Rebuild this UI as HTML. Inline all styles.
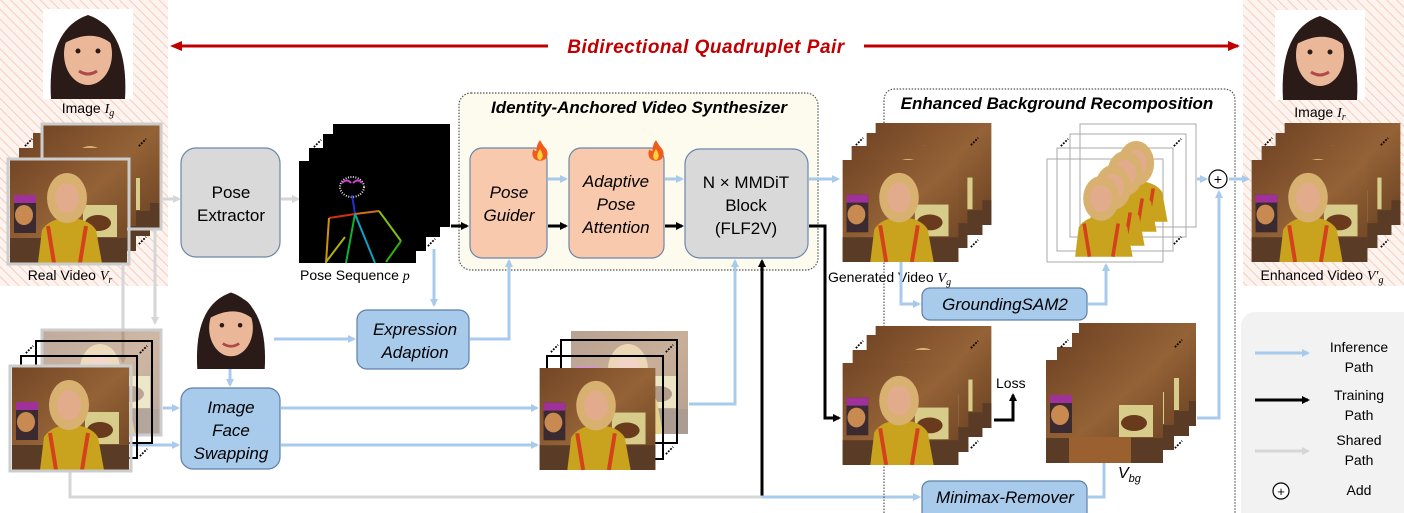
<!DOCTYPE html>
<html><head><meta charset="utf-8"><style>
html,body{margin:0;padding:0;background:#fff}
svg{display:block}
text{font-family:"Liberation Sans",sans-serif}
</style></head><body>
<svg width="1404" height="513" viewBox="0 0 1404 513" xmlns="http://www.w3.org/2000/svg">
<defs>
<pattern id="hatch" width="7" height="7" patternUnits="userSpaceOnUse" patternTransform="rotate(-45)">
<rect width="7" height="7" fill="#fdf3ef"/><line x1="0" y1="0" x2="0" y2="7" stroke="#f6cdbf" stroke-width="2"/>
</pattern>
<linearGradient id="wood" x1="0" y1="0" x2="1" y2="1"><stop offset="0" stop-color="#734626"/><stop offset="0.5" stop-color="#946236"/><stop offset="1" stop-color="#6a4222"/></linearGradient>
<symbol id="bg" viewBox="0 0 117 103">
<rect width="117" height="103" fill="url(#wood)"/>
<rect x="0" y="78" width="117" height="25" fill="#5a3b26"/>
<rect x="4" y="35" width="22" height="38" fill="#3b2b30"/><rect x="4" y="35" width="22" height="8" fill="#a0309a"/>
<ellipse cx="14" cy="55" rx="9" ry="10" fill="#c88a50"/>
<rect x="73" y="45" width="34" height="32" fill="#d8cc8a"/><ellipse cx="88" cy="63" rx="13" ry="8" fill="#6a3a1c"/>
</symbol>
<symbol id="fr" viewBox="0 0 117 103">
<use href="#bg" width="117" height="103"/>
<path d="M28 103 L32 70 Q40 58 58 58 Q78 58 86 70 L92 103 Z" fill="#c9a21e"/>
<path d="M38 66 L44 103 M76 66 L70 103" stroke="#d4421c" stroke-width="4"/>
<ellipse cx="57" cy="38" rx="20" ry="25" fill="#d8b070"/>
<ellipse cx="57" cy="38" rx="12" ry="15" fill="#e2ab8c"/>
</symbol>
<symbol id="pers" viewBox="0 0 117 103">
<path d="M28 103 L32 70 Q40 58 58 58 Q78 58 86 70 L92 103 Z" fill="#c9a21e"/>
<path d="M38 66 L44 103 M76 66 L70 103" stroke="#d4421c" stroke-width="4"/>
<ellipse cx="57" cy="38" rx="20" ry="25" fill="#d8b070"/>
<ellipse cx="57" cy="38" rx="12" ry="15" fill="#e2ab8c"/>
</symbol>
<symbol id="face" viewBox="0 0 90 90">
<rect width="90" height="90" fill="#fff"/>
<path d="M8 90 Q4 20 45 6 Q86 20 82 90 Z" fill="#2a1a18"/>
<ellipse cx="45" cy="45" rx="24" ry="31" fill="#eab898"/>
<path d="M20 35 Q30 8 60 14 Q72 22 70 36 Q50 18 20 35Z" fill="#2a1a18"/>
<path d="M36 62 Q45 68 54 62" stroke="#b04848" stroke-width="3" fill="none"/>
<circle cx="35" cy="42" r="2.5" fill="#2a1a18"/><circle cx="55" cy="42" r="2.5" fill="#2a1a18"/>
</symbol>
<symbol id="fire" viewBox="0 0 20 24">
<path d="M10 1 Q14 8 17 11 Q20 16 17 21 Q14 24 10 24 Q6 24 3 21 Q0 16 3 11 Q5 14 6 13 Q6 6 10 1Z" fill="#f05a1c"/>
<path d="M10 11 Q13 15 13 19 Q12 23 10 23 Q7 23 7 19 Q7 15 10 11Z" fill="#ffd23a"/>
</symbol>
<symbol id="dots" viewBox="0 0 10 10"><path d="M1 9 L9 1" stroke="#000" stroke-width="2" stroke-dasharray="2 1.5"/></symbol>
<marker id="ab" markerWidth="8" markerHeight="8" refX="6" refY="4" orient="auto" markerUnits="userSpaceOnUse"><path d="M0 0 L8 4 L0 8 Z" fill="#a8cbec"/></marker>
<marker id="ak" markerWidth="8" markerHeight="8" refX="6" refY="4" orient="auto" markerUnits="userSpaceOnUse"><path d="M0 0 L8 4 L0 8 Z" fill="#000"/></marker>
<marker id="ag" markerWidth="8" markerHeight="8" refX="6" refY="4" orient="auto" markerUnits="userSpaceOnUse"><path d="M0 0 L8 4 L0 8 Z" fill="#d6d6d6"/></marker>
<marker id="ar" markerWidth="12" markerHeight="10" refX="10" refY="5" orient="auto" markerUnits="userSpaceOnUse"><path d="M0 0 L12 5 L0 10 Z" fill="#c00000"/></marker>
</defs>

<rect x="0" y="0" width="168" height="286" fill="url(#hatch)"/>
<rect x="1243" y="0" width="161" height="286" fill="url(#hatch)"/>

<line x1="180" y1="46" x2="1238" y2="46" stroke="#c00000" stroke-width="3" marker-end="url(#ar)"/>
<path d="M170 46 L182 41 L182 51 Z" fill="#c00000"/>
<rect x="548" y="33" width="316" height="26" fill="#fff"/>
<text x="706" y="53" font-size="19" font-weight="bold" font-style="italic" fill="#c00000" text-anchor="middle" letter-spacing="0.5">Bidirectional Quadruplet Pair</text>

<use href="#face" x="43" y="9" width="90" height="90"/>
<text x="88" y="113" font-size="14" text-anchor="middle">Image <tspan font-family="Liberation Serif" font-style="italic">I<tspan font-size="10" dy="3">g</tspan></tspan></text>

<use href="#fr" x="43" y="125" width="117" height="103"/>
<use href="#fr" x="33" y="133" width="117" height="103"/>
<use href="#fr" x="19" y="148" width="117" height="103"/>
<rect x="42" y="124" width="119" height="105" fill="none" stroke="#ccc" stroke-width="3"/>
<use href="#fr" x="9" y="160" width="119" height="103"/>
<rect x="8" y="159" width="121" height="105" fill="none" stroke="#ccc" stroke-width="3"/>
<use href="#dots" x="24" y="138" width="9" height="9"/><use href="#dots" x="138" y="138" width="9" height="9"/><use href="#dots" x="138" y="236" width="9" height="9"/>
<text x="70" y="280" font-size="14" text-anchor="middle">Real Video <tspan font-family="Liberation Serif" font-style="italic">V<tspan font-size="10" dy="3">r</tspan></tspan></text>

<line x1="161" y1="199" x2="179" y2="199" stroke="#d6d6d6" stroke-width="3" marker-end="url(#ag)"/>
<line x1="155" y1="230" x2="155" y2="323" stroke="#d6d6d6" stroke-width="3" marker-end="url(#ag)"/>
<line x1="123" y1="264" x2="123" y2="362" stroke="#d6d6d6" stroke-width="3" marker-end="url(#ag)"/>

<rect x="181" y="148" width="99" height="109" rx="15" fill="#d9d9d9" stroke="#6c87aa" stroke-width="1.2"/>
<text x="231" y="198" font-size="17" text-anchor="middle">Pose</text>
<text x="231" y="221" font-size="17" text-anchor="middle">Extractor</text>
<line x1="281" y1="199" x2="298" y2="199" stroke="#d6d6d6" stroke-width="3" marker-end="url(#ag)"/>

<rect x="333" y="124" width="117" height="103" fill="#000"/>
<rect x="323" y="134" width="117" height="103" fill="#000"/>
<rect x="309" y="148" width="117" height="103" fill="#000"/>
<rect x="299" y="161" width="117" height="102" fill="#000"/>
<use href="#dots" x="313" y="139" width="9" height="9"/><use href="#dots" x="427" y="238" width="9" height="9"/>
<g stroke-width="2" fill="none">
<ellipse cx="352" cy="187" rx="12" ry="10" stroke="#ddd" stroke-dasharray="1 1.5"/>
<path d="M342 183 Q347 178 351 183 M353 183 Q358 178 362 183" stroke="#d040d0"/>
<line x1="352" y1="195" x2="355" y2="214" stroke="#2030d0"/>
<line x1="329" y1="218" x2="355" y2="214" stroke="#d03010"/>
<line x1="355" y1="214" x2="379" y2="211" stroke="#d07010"/>
<line x1="329" y1="218" x2="326" y2="263" stroke="#d09010"/>
<line x1="326" y1="262" x2="345" y2="237" stroke="#b0b010"/>
<line x1="379" y1="211" x2="401" y2="241" stroke="#80c010"/>
<line x1="401" y1="241" x2="386" y2="262" stroke="#30b010"/>
<line x1="355" y1="214" x2="346" y2="263" stroke="#10b030"/>
<line x1="355" y1="214" x2="375" y2="263" stroke="#10a0c0"/>
</g>
<text x="300" y="280" font-size="14">Pose Sequence <tspan font-family="Liberation Serif" font-style="italic">p</tspan></text>

<rect x="459" y="93" width="359" height="177" rx="12" fill="#fdfaee" stroke="#555" stroke-width="1.2" stroke-dasharray="1.5 1.5"/>
<text x="639" y="113" font-size="17" font-weight="bold" font-style="italic" text-anchor="middle">Identity-Anchored Video Synthesizer</text>
<rect x="470" y="148" width="77" height="110" rx="12" fill="#f8c9ac" stroke="#6c87aa" stroke-width="1.2"/>
<text x="509" y="198" font-size="17" font-style="italic" text-anchor="middle">Pose</text>
<text x="509" y="221" font-size="17" font-style="italic" text-anchor="middle">Guider</text>
<rect x="569" y="148" width="95" height="110" rx="12" fill="#f8c9ac" stroke="#6c87aa" stroke-width="1.2"/>
<text x="616" y="187" font-size="17" font-style="italic" text-anchor="middle">Adaptive</text>
<text x="616" y="210" font-size="17" font-style="italic" text-anchor="middle">Pose</text>
<text x="616" y="233" font-size="17" font-style="italic" text-anchor="middle">Attention</text>
<rect x="685" y="149" width="123" height="109" rx="15" fill="#d9d9d9" stroke="#6c87aa" stroke-width="1.2"/>
<text x="746" y="188" font-size="17" text-anchor="middle">N × MMDiT</text>
<text x="746" y="211" font-size="17" text-anchor="middle">Block</text>
<text x="746" y="234" font-size="17" text-anchor="middle">(FLF2V)</text>
<use href="#fire" x="531" y="139" width="18" height="22"/>
<use href="#fire" x="647" y="139" width="18" height="22"/>

<g stroke="#a8cbec" stroke-width="3" fill="none">
<line x1="548" y1="179" x2="566" y2="179" marker-end="url(#ab)"/>
<line x1="665" y1="179" x2="682" y2="179" marker-end="url(#ab)"/>
<line x1="809" y1="179" x2="838" y2="179" marker-end="url(#ab)"/>
</g>
<g stroke="#000" stroke-width="3" fill="none">
<line x1="451" y1="226" x2="467" y2="226" marker-end="url(#ak)"/>
<line x1="548" y1="226" x2="566" y2="226" marker-end="url(#ak)"/>
<line x1="665" y1="226" x2="682" y2="226" marker-end="url(#ak)"/>
<polyline points="809,226 825,226 825,418 839,418" marker-end="url(#ak)"/>
<polyline points="762,497 762,261" marker-end="url(#ak)"/>
</g>

<use href="#face" x="190" y="287" width="82" height="82"/>
<g stroke="#a8cbec" stroke-width="3" fill="none">
<line x1="274" y1="339" x2="354" y2="339" marker-end="url(#ab)"/>
<line x1="230" y1="369" x2="230" y2="385" marker-end="url(#ab)"/>
<line x1="434" y1="249" x2="434" y2="305" marker-end="url(#ab)"/>
<polyline points="470,339 509,339 509,261" marker-end="url(#ab)"/>
<line x1="163" y1="408" x2="178" y2="408" marker-end="url(#ab)"/>
<line x1="131" y1="445" x2="178" y2="445" marker-end="url(#ab)"/>
<line x1="281" y1="408" x2="537" y2="408" marker-end="url(#ab)"/>
<line x1="281" y1="445" x2="537" y2="445" marker-end="url(#ab)"/>
<polyline points="689,404 735,404 735,261" marker-end="url(#ab)"/>
<line x1="762" y1="497" x2="919" y2="497" marker-end="url(#ab)"/>
</g>
<polyline points="70,470 70,497 762,497" stroke="#d6d6d6" stroke-width="3" fill="none"/>

<rect x="357" y="310" width="112" height="59" rx="10" fill="#a8cbec" stroke="#5d7fa8" stroke-width="1.2"/>
<text x="415" y="335" font-size="17" font-style="italic" text-anchor="middle">Expression</text>
<text x="415" y="358" font-size="17" font-style="italic" text-anchor="middle">Adaption</text>
<rect x="181" y="388" width="99" height="81" rx="12" fill="#a8cbec" stroke="#5d7fa8" stroke-width="1.2"/>
<text x="231" y="413" font-size="17" font-style="italic" text-anchor="middle">Image</text>
<text x="231" y="436" font-size="17" font-style="italic" text-anchor="middle">Face</text>
<text x="231" y="459" font-size="17" font-style="italic" text-anchor="middle">Swapping</text>

<use href="#fr" x="43" y="331" width="117" height="103" opacity="0.45"/>
<rect x="42" y="330" width="119" height="105" fill="none" stroke="#ccc" stroke-width="3"/>
<rect x="36" y="341" width="116" height="102" fill="none" stroke="#000" stroke-width="2"/>
<rect x="21" y="356" width="116" height="102" fill="none" stroke="#000" stroke-width="2"/>
<use href="#fr" x="11" y="367" width="119" height="103"/>
<rect x="10" y="366" width="121" height="105" fill="none" stroke="#ccc" stroke-width="3"/>
<use href="#dots" x="25" y="345" width="9" height="9"/><use href="#dots" x="139" y="345" width="9" height="9"/><use href="#dots" x="139" y="448" width="9" height="9"/>

<use href="#fr" x="571" y="331" width="117" height="103" opacity="0.5"/>
<rect x="561" y="340" width="116" height="103" fill="none" stroke="#000" stroke-width="2"/>
<rect x="547" y="356" width="116" height="103" fill="none" stroke="#000" stroke-width="2"/>
<use href="#fr" x="539" y="368" width="117" height="102"/>
<use href="#dots" x="550" y="344" width="9" height="9"/><use href="#dots" x="665" y="344" width="9" height="9"/><use href="#dots" x="665" y="446" width="9" height="9"/>

<path d="M884 513 L884 101 Q884 89 896 89 L1223 89 Q1235 89 1235 101 L1235 513" fill="none" stroke="#555" stroke-width="1.2" stroke-dasharray="1.5 1.5"/>
<text x="1057" y="109" font-size="17" font-weight="bold" font-style="italic" text-anchor="middle">Enhanced Background Recomposition</text>

<use href="#fr" x="875" y="123" width="117" height="102"/>
<use href="#fr" x="866" y="133" width="117" height="102"/>
<use href="#fr" x="851" y="146" width="117" height="102"/>
<use href="#fr" x="842" y="160" width="117" height="102"/>
<use href="#dots" x="855" y="137" width="9" height="9"/><use href="#dots" x="970" y="137" width="9" height="9"/><use href="#dots" x="970" y="239" width="9" height="9"/>
<text x="828" y="282" font-size="14">Generated Video <tspan font-family="Liberation Serif" font-style="italic">V<tspan font-size="10" dy="3">g</tspan></tspan></text>
<g stroke="#a8cbec" stroke-width="3" fill="none">
<polyline points="901,262 901,304 919,304" marker-end="url(#ab)"/>
<polyline points="1088,304 1106,304 1106,265" marker-end="url(#ab)"/>
<line x1="1197" y1="179" x2="1206" y2="179" marker-end="url(#ab)"/>
<line x1="1229" y1="179" x2="1248" y2="179" marker-end="url(#ab)"/>
<polyline points="1197,418 1219,418 1219,192" marker-end="url(#ab)"/>
<polyline points="1088,497 1104,497 1104,434" marker-end="url(#ab)"/>
</g>
<rect x="922" y="288" width="165" height="32" rx="8" fill="#a8cbec" stroke="#5d7fa8" stroke-width="1.2"/>
<text x="1005" y="310" font-size="17" font-style="italic" text-anchor="middle">GroundingSAM2</text>
<rect x="922" y="481" width="165" height="40" rx="8" fill="#a8cbec" stroke="#5d7fa8" stroke-width="1.2"/>
<text x="1005" y="503" font-size="17" font-style="italic" text-anchor="middle">Minimax-Remover</text>

<g fill="none" stroke="#aaa" stroke-width="1">
<rect x="1080" y="124" width="116" height="103"/>
<rect x="1070" y="134" width="116" height="103"/>
<rect x="1057" y="148" width="116" height="103"/>
<rect x="1047" y="159" width="116" height="103"/>
</g>
<use href="#pers" x="1085" y="124" width="105" height="103"/>
<use href="#pers" x="1074" y="134" width="105" height="103"/>
<use href="#pers" x="1062" y="148" width="105" height="103"/>
<use href="#pers" x="1050" y="159" width="105" height="103"/>
<use href="#dots" x="1060" y="138" width="9" height="9"/><use href="#dots" x="1173" y="138" width="9" height="9"/><use href="#dots" x="1173" y="236" width="9" height="9"/>

<circle cx="1218" cy="179" r="9" fill="#fff" stroke="#000" stroke-width="1.2"/>
<text x="1218" y="184" font-size="14" text-anchor="middle">+</text>

<use href="#face" x="1275" y="9" width="90" height="92"/>
<text x="1320" y="117" font-size="14" text-anchor="middle">Image <tspan font-family="Liberation Serif" font-style="italic">I<tspan font-size="10" dy="3">r</tspan></tspan></text>
<use href="#fr" x="1284" y="123" width="117" height="102"/>
<use href="#fr" x="1275" y="133" width="117" height="102"/>
<use href="#fr" x="1261" y="146" width="117" height="102"/>
<use href="#fr" x="1251" y="160" width="117" height="102"/>
<use href="#dots" x="1264" y="137" width="9" height="9"/><use href="#dots" x="1380" y="137" width="9" height="9"/><use href="#dots" x="1380" y="239" width="9" height="9"/>
<text x="1322" y="280" font-size="14" text-anchor="middle">Enhanced Video <tspan font-family="Liberation Serif" font-style="italic">V′<tspan font-size="10" dy="3">g</tspan></tspan></text>

<use href="#fr" x="875" y="326" width="117" height="102"/>
<use href="#fr" x="866" y="335" width="117" height="102"/>
<use href="#fr" x="852" y="350" width="117" height="102"/>
<use href="#fr" x="842" y="363" width="117" height="102"/>
<use href="#dots" x="855" y="340" width="9" height="9"/><use href="#dots" x="970" y="340" width="9" height="9"/><use href="#dots" x="970" y="440" width="9" height="9"/>
<text x="996" y="388" font-size="14">Loss</text>
<polyline points="994,420 1013,420 1013,395" stroke="#000" stroke-width="3" fill="none" marker-end="url(#ak)"/>

<use href="#bg" x="1079" y="323" width="117" height="103"/>
<use href="#bg" x="1072" y="333" width="117" height="103"/>
<use href="#bg" x="1057" y="347" width="117" height="103"/>
<use href="#bg" x="1046" y="360" width="117" height="103"/>
<rect x="1069" y="437" width="62" height="26" fill="#9a6030"/>
<use href="#dots" x="1060" y="339" width="9" height="9"/><use href="#dots" x="1174" y="339" width="9" height="9"/><use href="#dots" x="1174" y="440" width="9" height="9"/>
<text x="1118" y="478" font-size="16" font-family="Liberation Serif" font-style="italic">V<tspan font-size="11" dy="4">bg</tspan></text>

<rect x="1241" y="312" width="175" height="215" rx="14" fill="#f2f2f2"/>
<line x1="1255" y1="353" x2="1308" y2="353" stroke="#a8cbec" stroke-width="3" marker-end="url(#ab)"/>
<text x="1359" y="352" font-size="14" text-anchor="middle">Inference</text>
<text x="1359" y="372" font-size="14" text-anchor="middle">Path</text>
<line x1="1255" y1="400" x2="1308" y2="400" stroke="#000" stroke-width="3" marker-end="url(#ak)"/>
<text x="1359" y="400" font-size="14" text-anchor="middle">Training</text>
<text x="1359" y="420" font-size="14" text-anchor="middle">Path</text>
<line x1="1255" y1="451" x2="1308" y2="451" stroke="#d6d6d6" stroke-width="3" marker-end="url(#ag)"/>
<text x="1359" y="445" font-size="14" text-anchor="middle">Shared</text>
<text x="1359" y="465" font-size="14" text-anchor="middle">Path</text>
<circle cx="1281" cy="491" r="8" fill="#fff" stroke="#000" stroke-width="1.2"/>
<text x="1281" y="496" font-size="13" text-anchor="middle">+</text>
<text x="1359" y="495" font-size="14" text-anchor="middle">Add</text>
</svg>
</body></html>
